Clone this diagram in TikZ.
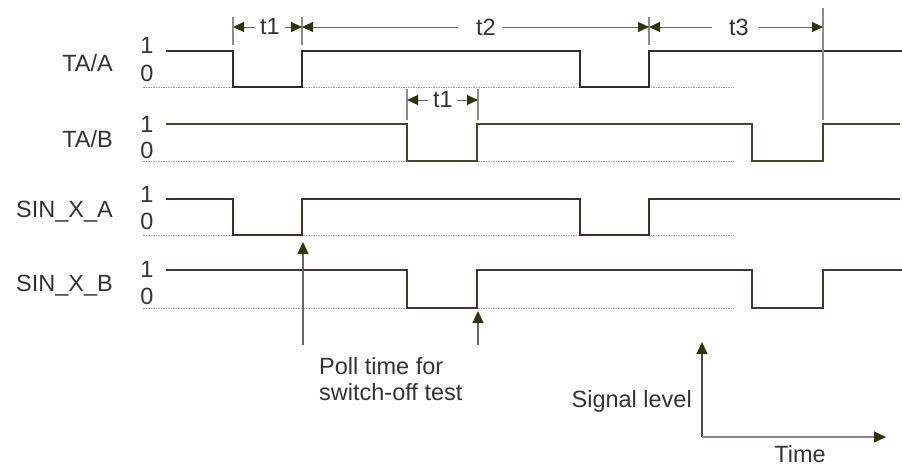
\documentclass[tikz,border=0pt]{standalone}
\usepackage{fontspec}
\setmainfont{Liberation Sans}
\usetikzlibrary{arrows.meta}
\definecolor{txt}{HTML}{333333}
\definecolor{sigA}{HTML}{2E2E2A}
\definecolor{sigB}{HTML}{45452A}
\definecolor{sigC}{HTML}{3E3028}
\definecolor{sigD}{HTML}{4A3430}
\definecolor{head}{HTML}{33330A}
\definecolor{tickc}{HTML}{8C8C8C}
\definecolor{dimc}{HTML}{666666}
\begin{document}
\begin{tikzpicture}[x=1pt,y=-1pt,
  lbl/.style={font=\fontsize{23.5}{26}\selectfont, text=txt, inner sep=0pt},
  sig/.style={line width=2.4pt, line join=miter},
  baseln/.style={draw=gray!75, line width=0.8pt, dash pattern=on 1.5pt off 1pt},
  tickline/.style={draw=tickc, line width=1.3pt},
  dim/.style={draw=dimc, line width=1pt, -{Triangle[length=11pt,width=10pt,color=head,fill=head]}},
  poll/.style={draw=gray!80!black, line width=1.3pt, -{Triangle[length=12pt,width=11pt,color=head,fill=head]}},
]
\useasboundingbox (0,0) rectangle (902,467);

% signal names
\node[lbl, anchor=base east] (nTAA) at (113,71) {TA/A};
\node[lbl, anchor=base east] (nTAB) at (113,147) {TA/B};
\node[lbl, anchor=base east] (nSXA) at (113,217) {SIN\_X\_A};
\node[lbl, anchor=base east] (nSXB) at (113,291) {SIN\_X\_B};

% levels
\node[lbl, anchor=base] (a1) at (147,53) {1};
\node[lbl, anchor=base] (a0) at (147,81) {0};
\node[lbl, anchor=base] (b1) at (147,132) {1};
\node[lbl, anchor=base] (b0) at (147,158) {0};
\node[lbl, anchor=base] (c1) at (147,202) {1};
\node[lbl, anchor=base] (c0) at (147,229) {0};
\node[lbl, anchor=base] (d1) at (147,277) {1};
\node[lbl, anchor=base] (d0) at (147,304) {0};

% dotted zero lines
\draw[baseln] (143,87) -- (734,87);
\draw[baseln] (143,161) -- (734,161);
\draw[baseln] (143,235) -- (734,235);
\draw[baseln] (143,308) -- (734,308);

% signals
\draw[sig, draw=sigA] (166,51) -- (233,51) -- (233,87) -- (302,87) -- (302,51) -- (580,51) -- (580,87) -- (649,87) -- (649,51) -- (902,51);
\draw[sig, draw=sigB] (166,124) -- (407,124) -- (407,161) -- (477,161) -- (477,124) -- (752,124) -- (752,161) -- (823,161) -- (823,124) -- (900,124);
\draw[sig, draw=sigC] (166,199) -- (233,199) -- (233,235) -- (302,235) -- (302,199) -- (580,199) -- (580,235) -- (649,235) -- (649,199) -- (900,199);
\draw[sig, draw=sigD] (166,270) -- (407,270) -- (407,308) -- (477,308) -- (477,270) -- (752,270) -- (752,308) -- (823,308) -- (823,270) -- (902,270);

% ticks
\draw[tickline] (233,17) -- (233,45);
\draw[tickline] (302,17) -- (302,45);
\draw[tickline] (649,17) -- (649,45);
\draw[tickline] (823,8) -- (823,120);
\draw[tickline] (407,89) -- (407,120);
\draw[tickline] (478,89) -- (478,120);

% dimension anchors
\coordinate (p233) at (233,27);
\coordinate (p302) at (302,27);
\coordinate (p649) at (649,27);
\coordinate (p823) at (823,27);
\coordinate (q407) at (407,100);
\coordinate (q478) at (478,100);

% dimension labels
\node[lbl] (t1a) at (270,27) {t1};
\node[lbl] (t2) at (486,27) {t2};
\node[lbl] (t3) at (739,27) {t3};
\node[lbl] (t1b) at (443,100) {t1};

\draw[dim] ([xshift=-5pt]t1a.west) -- (p233);
\draw[dim] ([xshift=5pt]t1a.east) -- (p302);
\draw[dim] ([xshift=-18pt]t2.west) -- (p302);
\draw[dim] ([xshift=7pt]t2.east) -- (p649);
\draw[dim] ([xshift=-17pt]t3.west) -- (p649);
\draw[dim] ([xshift=10pt]t3.east) -- (p823);
\draw[dim] ([xshift=-5pt]t1b.west) -- (q407);
\draw[dim] ([xshift=4pt]t1b.east) -- (q478);

% poll arrows
\coordinate (pollA0) at (303,345);
\coordinate (pollA1) at (303,242);
\coordinate (pollB0) at (478,345);
\coordinate (pollB1) at (478,311);
\draw[poll] (pollA0) -- (pollA1);
\draw[poll] (pollB0) -- (pollB1);
\node[lbl, anchor=north west, align=left] (polltxt) at (319,357) {Poll time for\\switch-off test};

% axes legend
\coordinate (org) at (702,437);
\coordinate (yend) at (702,342);
\coordinate (xend) at (886,437);
\draw[draw=gray!60!black, line width=1.3pt, -{Triangle[length=12pt,width=11pt,color=head,fill=head]}] (org) -- (yend);
\draw[draw=sigD!60!white, line width=1.3pt, -{Triangle[length=12pt,width=11pt,color=head,fill=head]}] (org) -- (xend);
\node[lbl, anchor=base east] (siglvl) at (692,407) {Signal level};
\node[lbl, anchor=base] (time) at (800,462) {Time};
\end{tikzpicture}
\end{document}
